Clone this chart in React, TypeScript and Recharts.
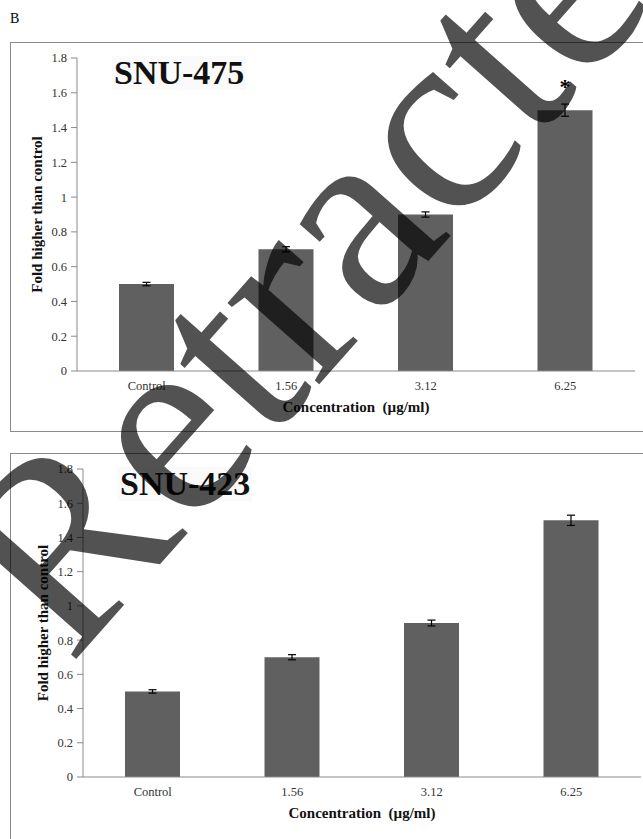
import { BarChart, Bar, XAxis, YAxis, ErrorBar, LabelList } from 'recharts'

// x categories (concentration, µg/ml)
const categories = ['Control', '1.56', '3.12', '6.25']

// SNU-475 panel
const snu475Values = [0.5, 0.7, 0.9, 1.5]
const snu475Errors = [0.01, 0.015, 0.015, 0.035]
const snu475Marks = ['', '', '', '*']

// SNU-423 panel
const snu423Values = [0.5, 0.7, 0.9, 1.5]
const snu423Errors = [0.01, 0.015, 0.017, 0.03]
const snu423Marks = ['', '', '', '']

const yTicks = [0, 0.2, 0.4, 0.6, 0.8, 1, 1.2, 1.4, 1.6, 1.8]
const boundaryTicks = [0, 1, 2, 3, 4]

const SERIF = 'Liberation Serif, Times New Roman, serif'
const BAR = '#606060'
const AXIS = '#8a8a8a'

interface PanelProps {
  title: string
  values: number[]
  errors: number[]
  marks: string[]
  top: number
  height: number
  margin: { top: number; left: number; right: number; bottom: number }
}

function Panel({ title, values, errors, marks, top, height, margin }: PanelProps) {
  const data = categories.map((name, i) => ({
    name,
    value: values[i],
    err: errors[i],
    mark: marks[i],
  }))

  return (
    <div style={{ position: 'absolute', left: 0, top, width: 643, height, fontFamily: SERIF }}>
      <BarChart width={643} height={height} data={data} margin={margin}>
        {/* boundary tick marks between categories */}
        <XAxis
          xAxisId="edges"
          type="number"
          domain={[0, 4]}
          ticks={boundaryTicks}
          tick={false}
          axisLine={false}
          tickLine={{ stroke: AXIS }}
          tickSize={6}
          height={0}
          allowDataOverflow
        />
        <XAxis
          xAxisId="cat"
          dataKey="name"
          axisLine={{ stroke: AXIS }}
          tickLine={false}
          tickSize={0}
          tickMargin={10}
          height={30}
          tick={{ fill: '#333', fontSize: 12.5, fontFamily: SERIF }}
          label={{
            value: 'Concentration\u00a0\u00a0(\u00b5g/ml)',
            position: 'bottom',
            offset: 0,
            style: { fill: '#111', fontSize: 15, fontWeight: 'bold', fontFamily: SERIF },
          }}
        />
        <YAxis
          domain={[0, 1.8]}
          ticks={yTicks}
          width={40}
          axisLine={{ stroke: AXIS }}
          tickLine={{ stroke: AXIS }}
          tickSize={6}
          tickMargin={4}
          interval={0}
          tick={{ fill: '#333', fontSize: 12.5, fontFamily: SERIF }}
          label={{
            content: ({ viewBox }: any) => {
              const cx = viewBox.x
              const cy = viewBox.y + viewBox.height / 2
              return (
                <text
                  x={cx}
                  y={cy}
                  transform={`rotate(-90, ${cx}, ${cy})`}
                  textAnchor="middle"
                  dominantBaseline="central"
                  fontFamily={SERIF}
                  fontSize={15}
                  fontWeight="bold"
                  fill="#111"
                >
                  Fold higher than control
                </text>
              )
            },
          }}
        />
        <Bar
          xAxisId="cat"
          dataKey="value"
          fill={BAR}
          barSize={55}
          isAnimationActive={false}
        >
          <ErrorBar dataKey="err" width={4} stroke="#000" strokeWidth={1.2} />
          <LabelList
            dataKey="mark"
            position="top"
            offset={16}
            style={{ fill: '#000', fontSize: 22, fontWeight: 'bold', fontFamily: SERIF }}
          />
        </Bar>
      </BarChart>
      <div
        style={{
          position: 'absolute',
          left: margin.left + 75,
          top: margin.top - 2,
          fontFamily: SERIF,
          fontWeight: 'bold',
          fontSize: 34,
          lineHeight: '34px',
          color: '#111',
          background: 'rgba(240,240,240,0.3)',
          padding: '0 2px',
        }}
      >
        {title}
      </div>
    </div>
  )
}

export default function App() {
  return (
    <div
      style={{
        position: 'absolute',
        left: 0,
        top: 0,
        width: 643,
        height: 839,
        overflow: 'hidden',
        background: '#fff',
      }}
    >
      <div style={{ position: 'absolute', left: 10, top: 11, fontFamily: SERIF, fontSize: 14 }}>B</div>

      {/* panel frames */}
      <div
        style={{
          position: 'absolute',
          left: 10,
          top: 42,
          width: 660,
          height: 388,
          border: `1px solid ${AXIS}`,
        }}
      />
      <div
        style={{
          position: 'absolute',
          left: 10,
          top: 453,
          width: 660,
          height: 420,
          border: `1px solid ${AXIS}`,
        }}
      />

      <Panel
        title="SNU-475"
        values={snu475Values}
        errors={snu475Errors}
        marks={snu475Marks}
        top={0}
        height={440}
        margin={{ top: 58, left: 37, right: 8, bottom: 39 }}
      />
      <Panel
        title="SNU-423"
        values={snu423Values}
        errors={snu423Errors}
        marks={snu423Marks}
        top={440}
        height={399}
        margin={{ top: 29, left: 43, right: 2, bottom: 32 }}
      />

      {/* retraction watermark */}
      <svg
        width={643}
        height={839}
        style={{ position: 'absolute', left: 0, top: 0, pointerEvents: 'none' }}
      >
        <text
          x={70}
          y={666}
          transform="rotate(-48.5, 70, 666)"
          fontFamily={SERIF}
          fontSize={267}
          fill="#000"
          fillOpacity={0.68}
        >
          Retracted
        </text>
      </svg>
    </div>
  )
}
